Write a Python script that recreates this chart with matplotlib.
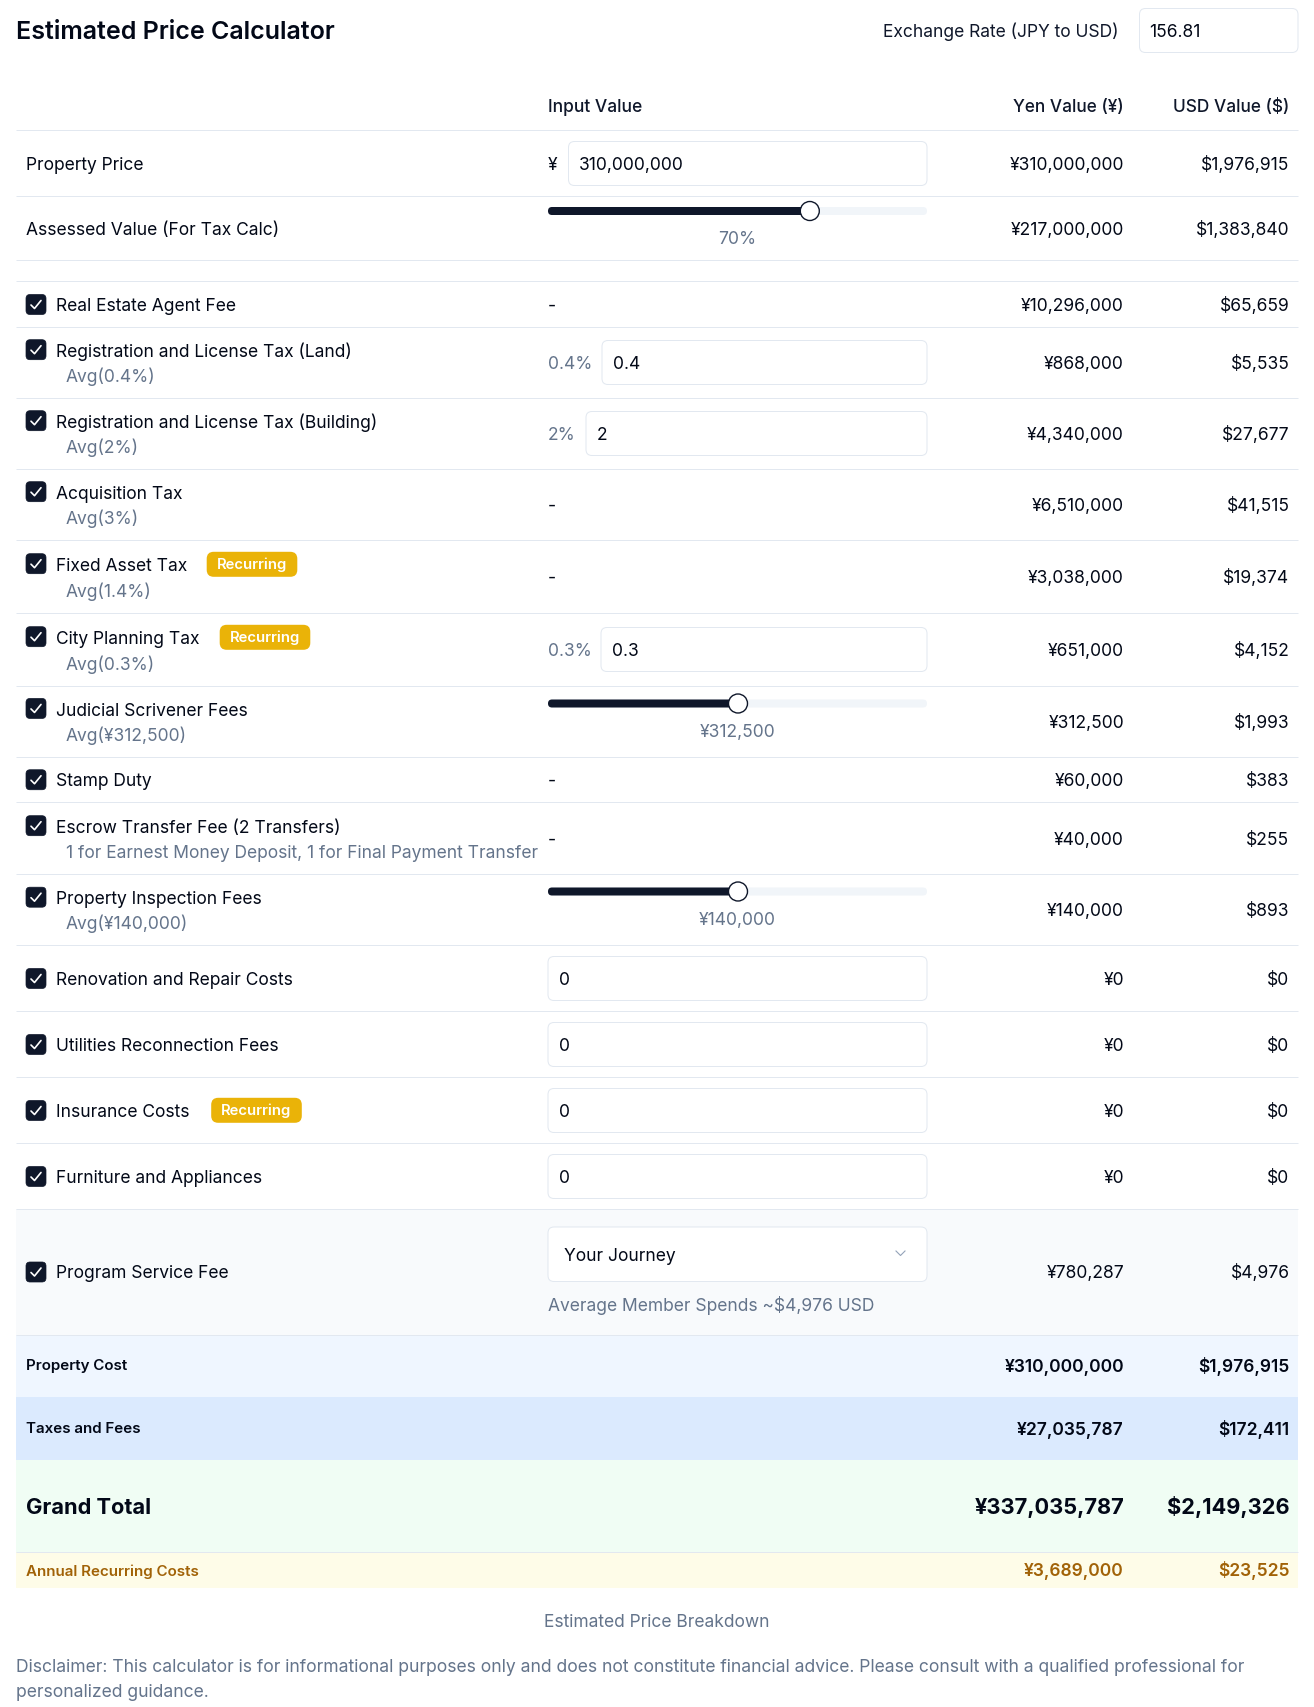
import matplotlib
matplotlib.use('Agg')
from matplotlib import pyplot as plt
from matplotlib.patches import FancyBboxPatch, Rectangle, Circle

# values read from the page
exchange_rate = '156.81'
property_price = '310,000,000'
fee_labels = ['Real Estate Agent Fee', 'Registration and License Tax (Land)',
              'Registration and License Tax (Building)', 'Acquisition Tax', 'Fixed Asset Tax',
              'City Planning Tax', 'Judicial Scrivener Fees', 'Stamp Duty',
              'Escrow Transfer Fee (2 Transfers)', 'Property Inspection Fees',
              'Renovation and Repair Costs', 'Utilities Reconnection Fees', 'Insurance Costs',
              'Furniture and Appliances']
fee_notes = ['', 'Avg(0.4%)', 'Avg(2%)', 'Avg(3%)', 'Avg(1.4%)', 'Avg(0.3%)', 'Avg(¥312,500)', '',
             '1 for Earnest Money Deposit, 1 for Final Payment Transfer', 'Avg(¥140,000)',
             '', '', '', '']
fee_inputs = ['-', ('0.4%', '0.4'), ('2%', '2'), '-', '-', ('0.3%', '0.3'), ('¥312,500', 0.5), '-', '-',
              ('¥140,000', 0.5), ('', '0'), ('', '0'), ('', '0'), ('', '0')]
fee_recurring = [False, False, False, False, True, True, False, False, False, False, False, False, True, False]
fee_yen = ['¥10,296,000', '¥868,000', '¥4,340,000', '¥6,510,000', '¥3,038,000', '¥651,000', '¥312,500',
           '¥60,000', '¥40,000', '¥140,000', '¥0', '¥0', '¥0', '¥0']
fee_usd = ['$65,659', '$5,535', '$27,677', '$41,515', '$19,374', '$4,152', '$1,993',
           '$383', '$255', '$893', '$0', '$0', '$0', '$0']
summary_labels = ['Property Cost', 'Taxes and Fees', 'Grand Total', 'Annual Recurring Costs']
summary_yen = ['¥310,000,000', '¥27,035,787', '¥337,035,787', '¥3,689,000']
summary_usd = ['$1,976,915', '$172,411', '$2,149,326', '$23,525']

# row borders in pixels
fee_edges = [281, 327, 398, 469, 540, 613, 686, 756.5, 802, 874, 945, 1011, 1077, 1143, 1209]
summary_edges = [1334.5, 1396.5, 1460, 1552, 1587.5]
summary_bg = ['#eff6ff', '#dbeafe', '#f0fdf4', '#fefce8']
summary_col = ['#020817', '#020817', '#020817', '#a16207']
summary_label_dy = [-1, -1, 0, 0.7]
badge_x = {4: 206.7, 5: 219.7, 12: 211.2}
pct_box_x = {'0.4%': 602, '2%': 586, '0.3%': 601}

INK = '#020817'
NAVY = '#0f172a'
GRAY = '#64748b'
LINE = '#e2e8f0'
BODY = 12.55
LEFT, RIGHT = 16, 1298
IN_L, IN_R = 548, 927
YEN_R, USD_R = 1124, 1289.5

plt.rcParams['font.family'] = ['Inter', 'DejaVu Sans']

fig = plt.figure(figsize=(13.14, 17.07), dpi=100)
ax = fig.add_axes([0, 0, 1, 1])
ax.set_xlim(0, 1314)
ax.set_ylim(1707, 0)
ax.axis('off')


def txt(x, y, s, size=BODY, color=INK, ha='left', weight='normal'):
    # y is the middle of the capitals, so rows stay level whatever the glyphs
    base = y + 0.364 * size / 0.72
    ax.text(x, base, s, fontsize=size, color=color, ha=ha, va='baseline', fontweight=weight)


def box(x0, y0, x1, y1, r=6, fc='white', ec=LINE, lw=0.72):
    ax.add_patch(FancyBboxPatch((x0, y0), x1 - x0, y1 - y0, boxstyle='round,pad=0,rounding_size=%g' % r,
                                fc=fc, ec=ec, lw=lw, mutation_aspect=1))


def hline(y):
    ax.plot([LEFT, RIGHT], [y, y], color=LINE, lw=0.72, solid_capstyle='butt')


def checkbox(y):
    box(26, y - 10, 46, y + 10, r=4, fc=NAVY, ec=NAVY, lw=0.5)
    ax.plot([31, 34.5, 41], [y + 0.5, y + 4, y - 4], color='white', lw=1.2,
            solid_capstyle='round', solid_joinstyle='round')


def slider(y, frac, label):
    box(IN_L, y - 4, IN_R, y + 4, r=4, fc='#f1f5f9', ec='#f1f5f9', lw=0)
    tx = IN_L + 10.5 + frac * (IN_R - IN_L - 20)
    box(IN_L, y - 4, tx, y + 4, r=4, fc=NAVY, ec=NAVY, lw=0)
    ax.add_patch(Circle((tx, y), 9.5, fc='white', ec=NAVY, lw=1.0, zorder=3))
    txt((IN_L + IN_R) / 2, y + 27, label, color=GRAY, ha='center')


def money(y, yen, usd, size=BODY, color=INK, weight='normal'):
    txt(YEN_R, y, yen, size=size, color=color, ha='right', weight=weight)
    txt(USD_R, y, usd, size=size, color=color, ha='right', weight=weight)


# top bar
txt(16, 30, 'Estimated Price Calculator', size=18, weight='semibold', color=INK)
txt(1118.5, 30.7, 'Exchange Rate (JPY to USD)', color=NAVY, ha='right')
box(1139.5, 8.5, 1298, 52.5)
txt(1149.5, 30.7, exchange_rate)

# header
txt(548, 106, 'Input Value', weight='medium', color=NAVY)
txt(YEN_R, 106, 'Yen Value (¥)', size=12.4, weight='medium', ha='right', color=NAVY)
txt(USD_R, 106, 'USD Value ($)', size=12.4, weight='medium', ha='right', color=NAVY)
for y in [130, 196, 260]:
    hline(y)

# the two property rows
txt(26, 163.7, 'Property Price')
txt(548, 163.7, '¥')
box(568.5, 141.5, IN_R, 185.5)
txt(579, 163.7, property_price)
money(163.7, '¥310,000,000', '$1,976,915')
txt(26, 228.7, 'Assessed Value (For Tax Calc)')
slider(211, 0.7, '70%')
money(228.7, '¥217,000,000', '$1,383,840')

# fee rows
for i, label in enumerate(fee_labels):
    top, bot = fee_edges[i], fee_edges[i + 1]
    mid = (top + bot) / 2
    if i == 0 or i >= 7:
        mid += 0.5
    hline(top)
    note = fee_notes[i]
    ly = mid - 12 if note else mid
    checkbox(ly - (0.8 if note else 0))
    txt(56, ly, label)
    if note:
        txt(66, mid + (14 if fee_recurring[i] else 13), note, color=GRAY)
    if fee_recurring[i]:
        bx = badge_x[i]
        box(bx, ly - 12.7, bx + 90.6, ly + 12.3, r=7, fc='#eab308', ec='#eab308', lw=0)
        txt(bx + 45.3, ly - 1, 'Recurring', size=10.7, color='white', ha='center', weight='semibold')
    cell = fee_inputs[i]
    if cell == '-':
        txt(548, mid, '-', color=INK)
    elif isinstance(cell[1], float):
        slider(top + 17.5, cell[1], cell[0])
    else:
        x0 = IN_L
        if cell[0]:
            x0 = pct_box_x[cell[0]]
            txt(548, mid, cell[0], color=GRAY)
        box(x0, mid - 22, IN_R, mid + 22)
        txt(x0 + 11, mid, cell[1])
    money(mid, fee_yen[i], fee_usd[i])

# program service fee
ax.add_patch(Rectangle((LEFT, 1209), RIGHT - LEFT, 125.5, fc='#f8fafc', ec='none', zorder=0))
hline(1209)
checkbox(1272)
txt(56, 1272, 'Program Service Fee')
box(IN_L, 1227, IN_R, 1281.5)
txt(564, 1255, 'Your Journey')
ax.plot([896, 900.5, 905], [1251, 1255.5, 1251], color='#94a3b8', lw=0.8)
txt(548, 1305, 'Average Member Spends ~$4,976 USD', color=GRAY)
money(1272, '¥780,287', '$4,976')

# summary bands
for i, label in enumerate(summary_labels):
    top, bot = summary_edges[i], summary_edges[i + 1]
    mid = (top + bot) / 2
    ax.add_patch(Rectangle((LEFT, top), RIGHT - LEFT, bot - top, fc=summary_bg[i], ec='none', zorder=0))
    big = i == 2
    txt(26, mid + summary_label_dy[i], label, size=15.7 if big else 10.9, color=summary_col[i],
        weight='bold' if big else 'semibold')
    money(mid, summary_yen[i], summary_usd[i], size=15.7 if big else BODY, color=summary_col[i],
          weight='bold' if big else 'semibold')
hline(1334.5)
hline(1552)

# footer
txt(657, 1621, 'Estimated Price Breakdown', color=GRAY, ha='center')
txt(16, 1666, 'Disclaimer: This calculator is for informational purposes only and does not constitute '
              'financial advice. Please consult with a qualified professional for', color=GRAY, size=12.62)
txt(16, 1691, 'personalized guidance.', color=GRAY, size=12.62)

fig.savefig('out.png', dpi=100)
